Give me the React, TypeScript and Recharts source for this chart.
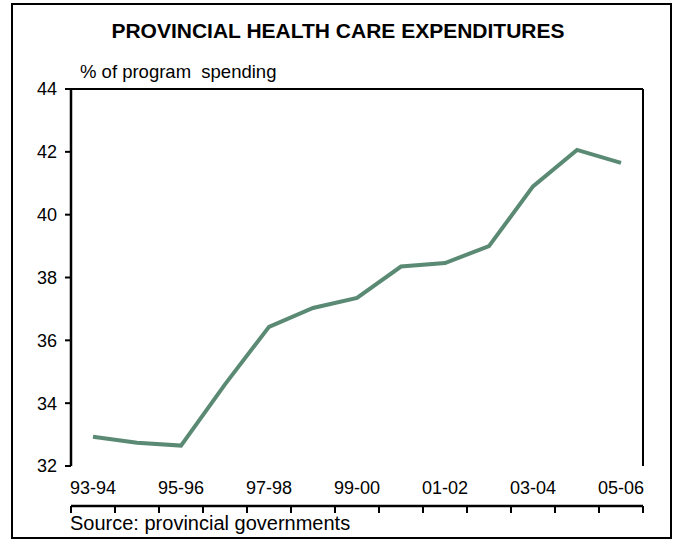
import React from 'react';
import { LineChart, Line, XAxis, YAxis, ReferenceLine } from 'recharts';

const categories = ['93-94', '94-95', '95-96', '96-97', '97-98', '98-99', '99-00', '00-01', '01-02', '02-03', '03-04', '04-05', '05-06'];
const shareOfProgramSpending = [32.93, 32.74, 32.65, 34.6, 36.43, 37.03, 37.35, 38.35, 38.46, 39.0, 40.9, 42.06, 41.65];
const yTicks = [32, 34, 36, 38, 40, 42, 44];
const labelTicks = [0, 2, 4, 6, 8, 10, 12];
const boundaryTicks = [-0.5, 0.5, 1.5, 2.5, 3.5, 4.5, 5.5, 6.5, 7.5, 8.5, 9.5, 10.5, 11.5, 12.5];

const data = categories.map((c, i) => ({ idx: i, year: c, value: shareOfProgramSpending[i] }));

const FONT = '"Liberation Sans", Arial, sans-serif';

export default function App() {
  return (
    <div style={{ position: 'absolute', left: 0, top: 0, width: 676, height: 548, background: '#fff', fontFamily: FONT }}>
      <div style={{ position: 'absolute', left: 11, top: 3, width: 661, height: 536, border: '2.5px solid #000', boxSizing: 'border-box' }} />
      <div style={{ position: 'absolute', left: 0, width: 676, top: 18, textAlign: 'center', fontSize: 21, fontWeight: 'bold', lineHeight: '26px', color: '#000' }}>
        PROVINCIAL HEALTH CARE EXPENDITURES
      </div>
      <div style={{ position: 'absolute', left: 80, top: 61, fontSize: 18.5, lineHeight: '22px', color: '#000', whiteSpace: 'pre' }}>
        {'% of program  spending'}
      </div>
      <div style={{ position: 'absolute', left: 70, top: 511, fontSize: 20, lineHeight: '24px', color: '#000' }}>
        Source: provincial governments
      </div>
      <div style={{ position: 'absolute', left: 0, top: 0 }}>
        <LineChart width={676} height={548} data={data} margin={{ top: 89, right: 33, bottom: 34, left: 11 }}>
          <XAxis
            xAxisId="main"
            type="number"
            dataKey="idx"
            domain={[-0.5, 12.5]}
            ticks={boundaryTicks}
            tickFormatter={() => ''}
            tickSize={7}
            height={8}
            axisLine={{ stroke: '#000', strokeWidth: 2.5 }}
            tickLine={{ stroke: '#000', strokeWidth: 2 }}
            allowDataOverflow
          />
          <XAxis
            xAxisId="lab"
            type="number"
            dataKey="idx"
            domain={[-0.5, 12.5]}
            ticks={labelTicks}
            tickFormatter={(v: number) => categories[v] ?? ''}
            tickSize={0}
            tickMargin={15}
            height={40}
            axisLine={false}
            tickLine={false}
            tick={{ fill: '#000', fontSize: 18, fontFamily: FONT }}
            interval={0}
            allowDataOverflow
          />
          <YAxis
            type="number"
            domain={[32, 44]}
            ticks={yTicks}
            width={60}
            tickSize={6}
            tickMargin={8}
            axisLine={{ stroke: '#000', strokeWidth: 2.5 }}
            tickLine={{ stroke: '#000', strokeWidth: 2 }}
            tick={{ fill: '#000', fontSize: 18, fontFamily: FONT }}
            interval={0}
            allowDataOverflow
          />
          <ReferenceLine xAxisId="main" y={44} stroke="#000" strokeWidth={2} />
          <ReferenceLine xAxisId="main" x={12.5} stroke="#000" strokeWidth={2} />
          <Line
            xAxisId="main"
            type="linear"
            dataKey="value"
            stroke="#5b8a74"
            strokeWidth={4}
            dot={false}
            isAnimationActive={false}
          />
        </LineChart>
      </div>
    </div>
  );
}
